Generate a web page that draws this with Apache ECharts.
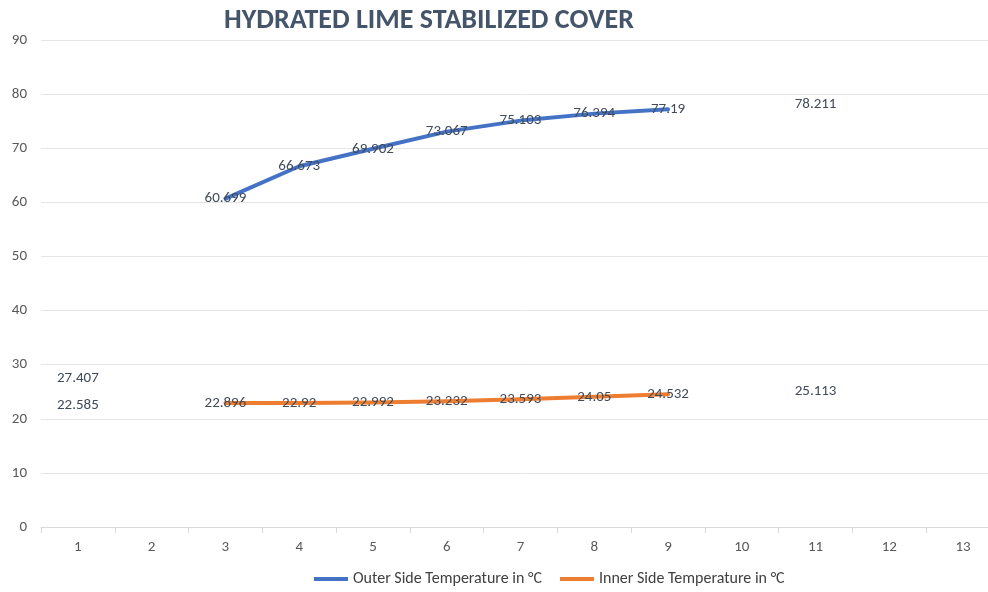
<!DOCTYPE html>
<html>
<head>
<meta charset="utf-8">
<script src="https://cdn.jsdelivr.net/npm/echarts@6/dist/echarts.min.js"></script>
<style>
  html, body { margin: 0; padding: 0; background: #fff; overflow: hidden; }
  #chart { width: 1000px; height: 592px; }
</style>
</head>
<body>
<div id="chart"></div>
<script>
// 横坐标
const categories = ['1', '2', '3', '4', '5', '6', '7', '8', '9', '10', '11', '12', '13']
const outerTemp = [27.407, null, 60.699, 66.673, 69.902, 73.067, 75.103, 76.394, 77.19, null, 78.211, null, null]
const innerTemp = [22.585, null, 22.896, 22.92, 22.992, 23.232, 23.593, 24.05, 24.532, null, 25.113, null, null]
const seriesNames = ['Outer Side Temperature in °C', 'Inner Side Temperature in °C']
const colors = ['#4472C4', '#ED7D31']

// 图表区比可见区域稍宽，右侧被裁掉一点（和原图一致）
const chart = echarts.init(document.getElementById('chart'))
const font = 'Calibri, Carlito, Lato, sans-serif'

function makeSeries(name, data, color) {
  return {
    name,
    type: 'line',
    data,
    symbol: 'circle',
    symbolSize: 1,
    showSymbol: true,
    connectNulls: false,
    itemStyle: { color: 'rgba(0,0,0,0)' },
    lineStyle: { color, width: 4, cap: 'round', join: 'round' },
    label: {
      show: true,
      position: 'inside',
      color: '#404A58',
      fontSize: 15,
      fontFamily: font,
    },
    emphasis: { disabled: true },
  }
}

const option = {
  animation: false,
  title: {
    text: 'HYDRATED LIME STABILIZED COVER',
    left: 424,
    textAlign: 'center',
    top: 2,
    textStyle: { color: '#44546A', fontSize: 28, fontWeight: 'bold', fontFamily: font },
  },
  legend: {
    bottom: 0,
    left: 309,
    itemWidth: 34,
    itemHeight: 4,
    itemGap: 18,
    icon: 'rect',
    data: [
      { name: seriesNames[0], itemStyle: { color: colors[0] } },
      { name: seriesNames[1], itemStyle: { color: colors[1] } },
    ],
    textStyle: { color: '#404040', fontSize: 16, fontFamily: font },
  },
  grid: {
    left: 41,
    top: 40,
    right: 0,
    bottom: 65,
    containLabel: false,
  },
  xAxis: {
    type: 'category',
    data: categories,
    boundaryGap: true,
    axisLine: { lineStyle: { color: '#D9D9D9' } },
    axisTick: { show: true, length: 6, lineStyle: { color: '#D9D9D9' } },
    axisLabel: { color: '#595959', fontSize: 15, margin: 13, fontFamily: font },
  },
  yAxis: {
    type: 'value',
    min: 0,
    max: 90,
    interval: 10,
    axisLine: { show: false },
    axisTick: { show: false },
    splitLine: { lineStyle: { color: '#E5E5E5' } },
    axisLabel: { color: '#595959', fontSize: 15, margin: 14, fontFamily: font },
  },
  series: [
    makeSeries(seriesNames[0], outerTemp, colors[0]),
    makeSeries(seriesNames[1], innerTemp, colors[1]),
  ],
}

chart.setOption(option)
</script>
</body>
</html>
